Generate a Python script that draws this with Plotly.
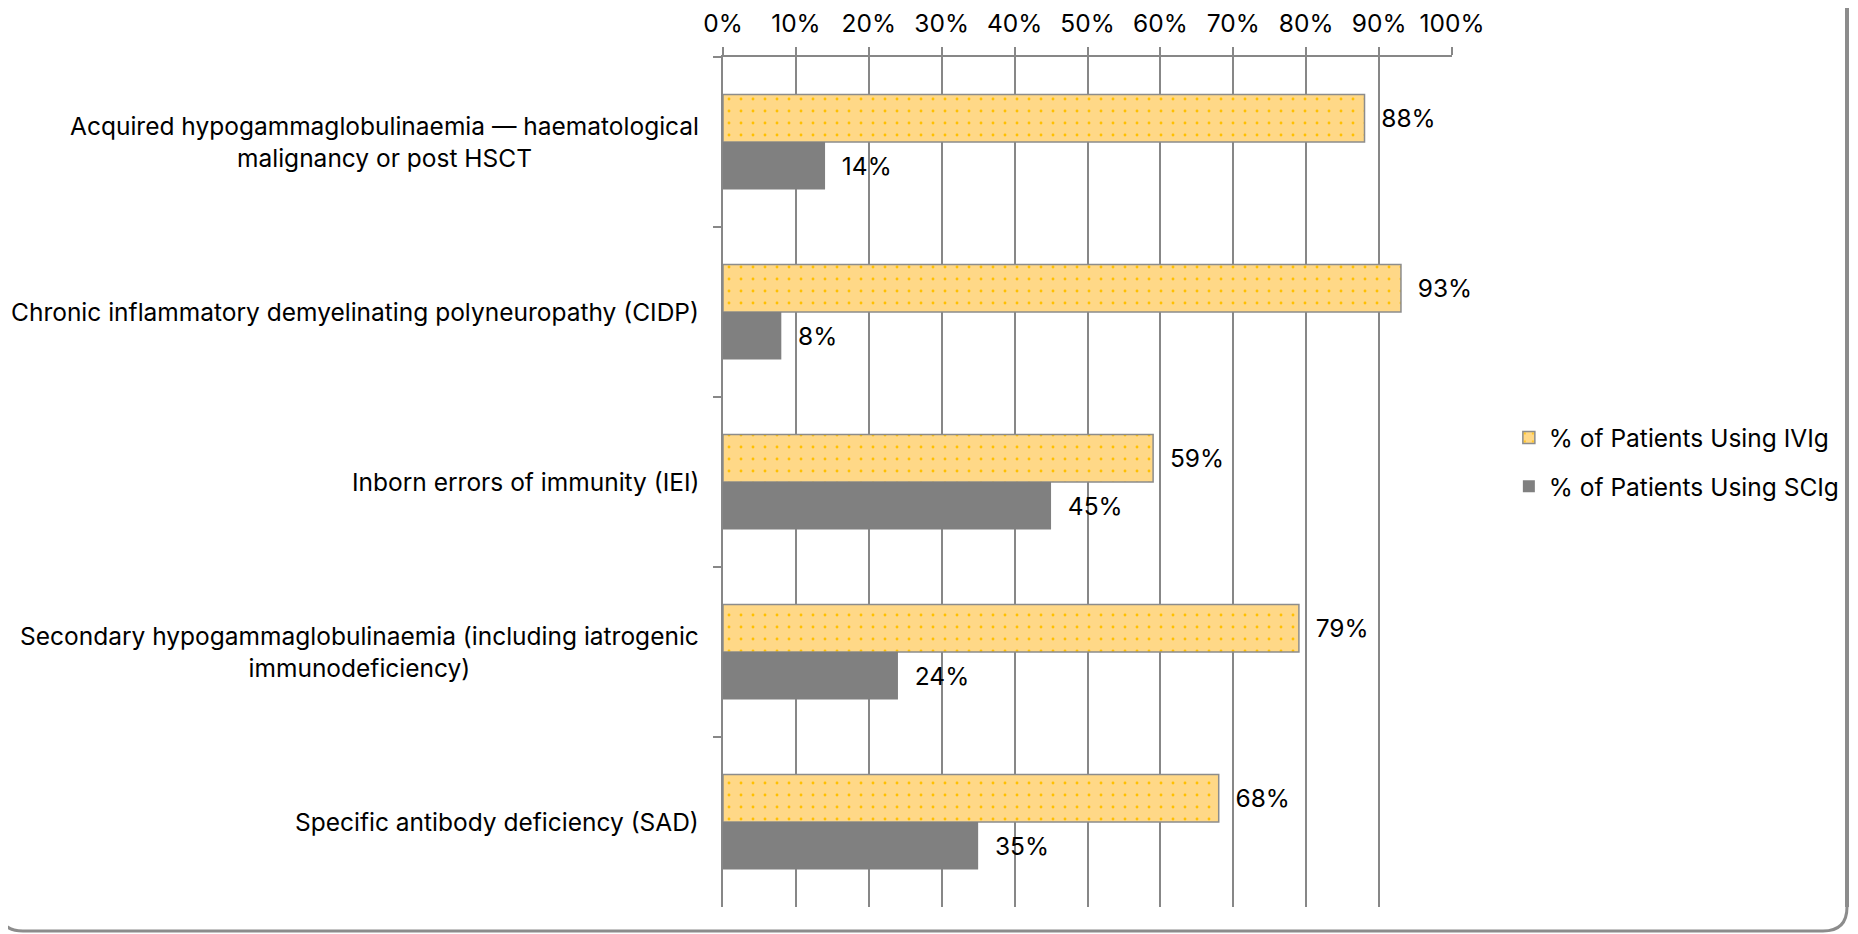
import plotly.graph_objects as go

categories = [
    "Acquired hypogammaglobulinaemia — haematological<br>malignancy or post HSCT",
    "Chronic inflammatory demyelinating polyneuropathy (CIDP)",
    "Inborn errors of immunity (IEI)",
    "Secondary hypogammaglobulinaemia (including iatrogenic<br>immunodeficiency)",
    "Specific antibody deficiency (SAD)",
]
cat_keys = ["Acquired", "CIDP", "IEI", "Secondary", "SAD"]
ivig = [0.88, 0.93, 0.59, 0.79, 0.68]
scig = [0.14, 0.08, 0.45, 0.24, 0.35]
series_names = ["% of Patients Using IVIg", "% of Patients Using SCIg"]
tick_vals = [i / 10 for i in range(11)]
tick_text = [f"{i*10}%" for i in range(11)]

# page has an 8px body margin, so the figure is drawn 8px right/down
OFF = 8
W, H = 1858 - OFF, 934 - OFF
L, T = 723 - OFF, 57 - OFF
PR, PB = 1452 - OFF, 907 - OFF
R, B = W - PR, H - PB
PW, PH = PR - L, PB - T

def px(x):
    return (x - OFF - L) / PW

def py(y):
    return (PB - (y - OFF)) / PH

FONT = "Inter"
FS = 24.5
GRAY = "#878787"
FRAME = "#8C8C8C"
NB = "\u00a0\u00a0"

fig = go.Figure()
fig.add_trace(go.Bar(
    y=cat_keys, x=ivig, orientation="h", name=series_names[0],
    marker=dict(color="#FFD887",
                line=dict(color="#8C8C8C", width=1.5),
                pattern=dict(shape=".", fgcolor="#FFC000", bgcolor="#FFD887",
                             size=12, solidity=0.045, fillmode="replace")),
    text=[NB + f"{v*100:.0f}%" for v in ivig], textposition="outside",
    textfont=dict(family=FONT, size=FS, color="#000000"),
    cliponaxis=False, legendgroup="a",
))
fig.add_trace(go.Bar(
    y=cat_keys, x=scig, orientation="h", name=series_names[1],
    marker=dict(color="#808080", line=dict(width=0)),
    text=[NB + f"{v*100:.0f}%" for v in scig], textposition="outside",
    textfont=dict(family=FONT, size=FS, color="#000000"),
    cliponaxis=False, legendgroup="b",
))

for key, label in zip(cat_keys, categories):
    fig.add_annotation(
        x=0, xref="paper", y=key, yref="y", text=label, showarrow=False,
        xanchor="right", yanchor="middle", align="center", xshift=-22,
        font=dict(family=FONT, size=FS, color="#000000"),
    )

# rounded frame (bottom and right edges visible)
r = 24
RX = 1847
xl, xr, yb = px(-1), px(RX), py(931)
path = (f"M{xl},{py(931 - r)} Q{xl},{yb} {px(-1 + r)},{yb} "
        f"L{px(RX - r)},{yb} Q{xr},{yb} {xr},{py(931 - r)}")
fig.add_shape(type="path", path=path, xref="paper", yref="paper",
              line=dict(color=FRAME, width=3), layer="above")
fig.add_shape(type="line", xref="paper", yref="paper",
              x0=xr, x1=xr, y0=py(931 - r), y1=py(-10),
              line=dict(color=FRAME, width=4), layer="above")

fig.update_layout(
    width=W, height=H,
    margin=dict(l=L, r=R, t=T, b=B, pad=0, autoexpand=False),
    paper_bgcolor="white", plot_bgcolor="white",
    barmode="group", bargap=0.44, bargroupgap=0,
    font=dict(family=FONT, size=FS, color="#000000"),
    showlegend=True,
    legend=dict(x=1.078, xanchor="left", y=0.5235, yanchor="middle",
                font=dict(family=FONT, size=FS, color="#000000"),
                traceorder="grouped", tracegroupgap=14, itemwidth=30,
                bgcolor="rgba(0,0,0,0)"),
    xaxis=dict(side="top", range=[0, 1], tickvals=tick_vals, ticktext=tick_text,
               showgrid=True, gridcolor=GRAY, gridwidth=1.5,
               showline=True, linecolor=GRAY, linewidth=1.5,
               ticks="outside", ticklen=8, tickcolor=GRAY, tickwidth=1.5,
               ticklabelstandoff=5, zeroline=False, automargin=False,
               tickfont=dict(family=FONT, size=FS, color="#000000")),
    yaxis=dict(autorange="reversed", type="category",
               showticklabels=False, showgrid=False, automargin=False,
               showline=True, linecolor=GRAY, linewidth=1.5,
               ticks="outside", ticklen=8, tickcolor=GRAY, tickwidth=1.5,
               tickson="boundaries", zeroline=False),
)

fig.write_html("out.html")
